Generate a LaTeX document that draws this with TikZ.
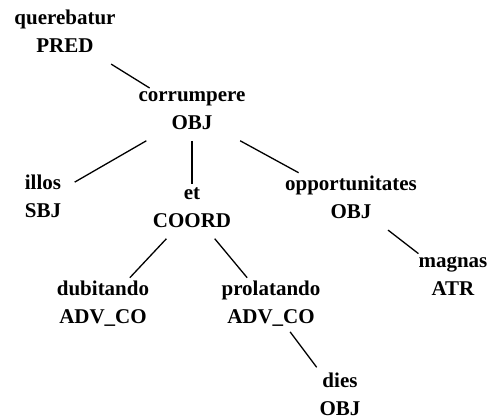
\documentclass[tikz,border=0pt]{standalone}
\usepackage{fontspec}
\setmainfont{Liberation Serif}

\begin{document}
\begin{tikzpicture}[
    x=1pt, y=-1pt,
    word/.style={
      align=center, inner sep=3pt,
      font=\fontsize{21}{28}\selectfont\bfseries,
      execute at begin node=\strut, execute at end node=\strut
    },
    dep/.style={line width=1.3pt},
  ]
  \useasboundingbox (0,0) rectangle (491,419);

  %% ── Level 0 ──
  \node[word] (querebatur) at (65,35.4)  {querebatur\\PRED};

  %% ── Level 1 ──
  \node[word] (corrumpere) at (192,114.4) {corrumpere\\OBJ};

  %% ── Level 2 ──
  \node[word] (illos)  at (43,200.4)  {illos\\SBJ};
  \node[word] (et)     at (192,211.4) {et\\COORD};
  \node[word] (opport) at (351,201.4) {opportunitates\\OBJ};

  %% ── Level 3 ──
  \node[word] (dubit)  at (103,306.4) {dubitando\\ADV\_CO};
  \node[word] (prolat) at (271,306.4) {prolatando\\ADV\_CO};
  \node[word] (magnas) at (453,280.4) {magnas\\ATR};

  %% ── Level 4 ──
  \node[word] (dies)   at (340,398.4) {dies\\OBJ};

  %% ── Edges ──
  \draw[dep] (querebatur) -- (corrumpere);
  \draw[dep, shorten >=12pt] (corrumpere) -- (illos);
  \draw[dep] (corrumpere) -- (et);
  \draw[dep] (corrumpere) -- (opport);
  \draw[dep] (et) -- (dubit);
  \draw[dep] (et) -- (prolat);
  \draw[dep] (opport) -- (magnas);
  \draw[dep, shorten <=-4pt, shorten >=3pt] (prolat) -- (dies);

\end{tikzpicture}
\end{document}
